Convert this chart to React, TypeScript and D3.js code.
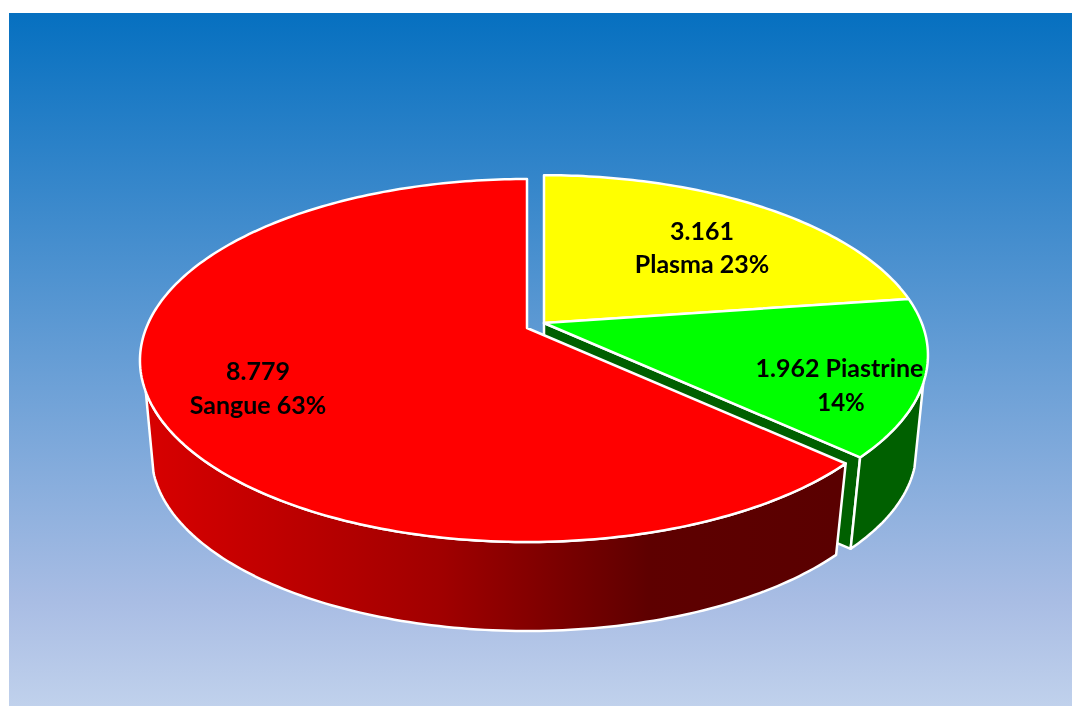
import React from "react";
import * as d3 from "d3";

const names = ["Plasma", "Piastrine", "Sangue"];
const values = [3161, 1962, 8779];
const valueLabels = ["3.161", "1.962", "8.779"];
const percents = ["23%", "14%", "63%"];
const topColors = ["#ffff00", "#00ff00", "#ff0000"];

const width = 1072;
const height = 706;

// perspective of the tilted disc, fitted on the picture
const k = 0.179;
const a = 175.7;
const b = 380.8;
const depth = 95.4;
const shrink = 0.97;
const deg = Math.PI / 180;

type Center = { x: number; y: number; scale: number };
const closed: Center = { x: 527, y: 328, scale: 1 };
const pulled: Center = { x: 544, y: 323, scale: 0.992 };

function project(c: Center, angle: number, bottom = false): [number, number] {
  const u = Math.sin(angle);
  const v = -Math.cos(angle);
  const d = 1 - k * v;
  const s = (bottom ? shrink : 1) * c.scale;
  return [c.x + (b * s * u) / d, c.y + (bottom ? depth : 0) + (a * s * v) / d];
}

function arcPoints(c: Center, from: number, to: number, bottom = false) {
  const n = Math.max(2, Math.ceil(Math.abs(to - from) / (1 * deg)));
  return d3.range(n + 1).map((i) => project(c, from + ((to - from) * i) / n, bottom));
}

const line = d3.line().curve(d3.curveLinear);
const closedPath = (pts: [number, number][]) => line(pts) + "Z";

export default function App() {
  const slices = d3.pie<number>().sort(null).value((d) => d)(values);
  const [plasma, piastrine, sangue] = slices;

  const topFace = (s: d3.PieArcDatum<number>, c: Center) =>
    closedPath([[c.x, c.y], ...arcPoints(c, s.startAngle, s.endAngle)]);

  // outer walls stop where the rim turns away from the viewer
  const greenWall = closedPath([
    ...arcPoints(pulled, 109 * deg, piastrine.endAngle),
    ...arcPoints(pulled, piastrine.endAngle, 106 * deg, true),
  ]);
  const redWall = closedPath([
    ...arcPoints(closed, sangue.startAngle, 250 * deg),
    ...arcPoints(closed, 254 * deg, sangue.startAngle, true),
  ]);
  const greenCut = closedPath([
    [pulled.x, pulled.y],
    project(pulled, piastrine.endAngle),
    project(pulled, piastrine.endAngle, true),
    [pulled.x, pulled.y + depth],
  ]);

  const textStyle: React.CSSProperties = {
    fontFamily: "Lato, 'Open Sans', sans-serif",
    fontWeight: 700,
    fill: "#000",
    textAnchor: "middle",
  };

  return (
    <svg
      width={width}
      height={height}
      style={{ position: "absolute", left: 0, top: 0, display: "block", background: "#fff" }}
    >
      <defs>
        <linearGradient id="bg" x1="0" y1="0" x2="0" y2="1">
          <stop offset="0" stopColor="#0670c0" />
          <stop offset="0.85" stopColor="#a9bde4" />
          <stop offset="1" stopColor="#c0d1ec" />
        </linearGradient>
        <linearGradient id="redWall" gradientUnits="userSpaceOnUse" x1="145" y1="0" x2="835" y2="0">
          <stop offset="0" stopColor="#d80000" />
          <stop offset="0.43" stopColor="#a00000" />
          <stop offset="0.73" stopColor="#5e0000" />
          <stop offset="1" stopColor="#5a0000" />
        </linearGradient>
        <filter id="soft" x="-5%" y="-5%" width="110%" height="110%">
          <feGaussianBlur stdDeviation="0.45" />
        </filter>
      </defs>
      <rect x={9} y={13} width={width - 9} height={height - 13} fill="url(#bg)" />

      <g stroke="#fff" strokeWidth={2.5} strokeLinejoin="round">
        <path d={greenCut} fill="#006000" />
        <path d={greenWall} fill="#006000" />
        <path d={topFace(plasma, pulled)} fill={topColors[0]} />
        <path d={topFace(piastrine, pulled)} fill={topColors[1]} />
        <path d={redWall} fill="url(#redWall)" />
        <path d={topFace(sangue, closed)} fill={topColors[2]} />
      </g>

      <g style={textStyle} filter="url(#soft)">
        <text x={702} y={240} fontSize={25}>{valueLabels[0]}</text>
        <text x={702} y={273} fontSize={25}>{`${names[0]} ${percents[0]}`}</text>
        <text x={839.5} y={377} fontSize={25}>{`${valueLabels[1]} ${names[1]}`}</text>
        <text x={841} y={411} fontSize={24}>{percents[1]}</text>
        <text x={258} y={380} fontSize={25}>{valueLabels[2]}</text>
        <text x={258} y={414} fontSize={25}>{`${names[2]} ${percents[2]}`}</text>
      </g>
    </svg>
  );
}
